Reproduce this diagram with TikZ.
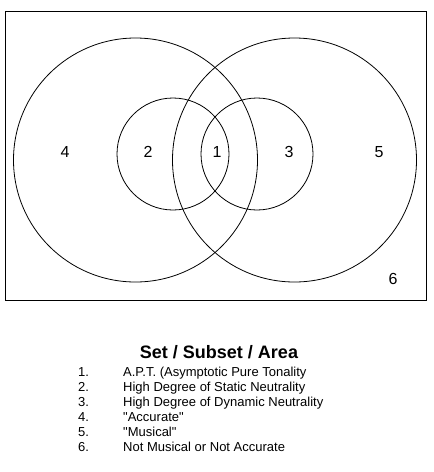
\documentclass[tikz,border=0pt]{standalone}
\usepackage{fontspec}
\setmainfont{Liberation Sans}

\begin{document}
\begin{tikzpicture}[x=1pt, y=-1pt,
        set/.style={circle, draw=black, line width=0.8pt, inner sep=0pt},
        area/.style={inner sep=0pt, font=\fontsize{16}{19}\selectfont},
        item/.style={inner sep=0pt, anchor=base west, font=\fontsize{13}{15}\selectfont}]
        \useasboundingbox (0, 0) rectangle (434, 472);
        \node[draw=black, line width=0.8pt, inner sep=0pt, minimum width=421pt, minimum height=289pt] (frame) at (215.5, 155.5) {};

        % the two big sets and the two subsets
        \node[set, minimum size=244pt] (accurate) at (135.5, 160) {};
        \node[set, minimum size=244pt] (musical) at (294.5, 160) {};
        \node[set, minimum size=112pt] (static) at (173, 154) {};
        \node[set, minimum size=112pt] (dynamic) at (257, 154) {};

        \node[area] (a4) at (65, 152) {4};
        \node[area] (a2) at (148, 152) {2};
        \node[area] (a1) at (217, 152) {1};
        \node[area] (a3) at (289, 152) {3};
        \node[area] (a5) at (379, 152) {5};
        \node[area] (a6) at (393, 279) {6};

        \node[inner sep=0pt, font=\bfseries\fontsize{18}{21}\selectfont] (title) at (219, 352) {Set / Subset / Area};
        \foreach \n/\txt in {1/A.P.T. (Asymptotic Pure Tonality, 2/High Degree of Static Neutrality,
                3/High Degree of Dynamic Neutrality, 4/\textquotedbl Accurate\textquotedbl,
                5/\textquotedbl Musical\textquotedbl, 6/Not Musical or Not Accurate} {
                \node[item] (num\n) at (78, 361 + 15*\n) {\n.};
                \node[item] (txt\n) at (123, 361 + 15*\n) {\txt};
        }
\end{tikzpicture}
\end{document}
